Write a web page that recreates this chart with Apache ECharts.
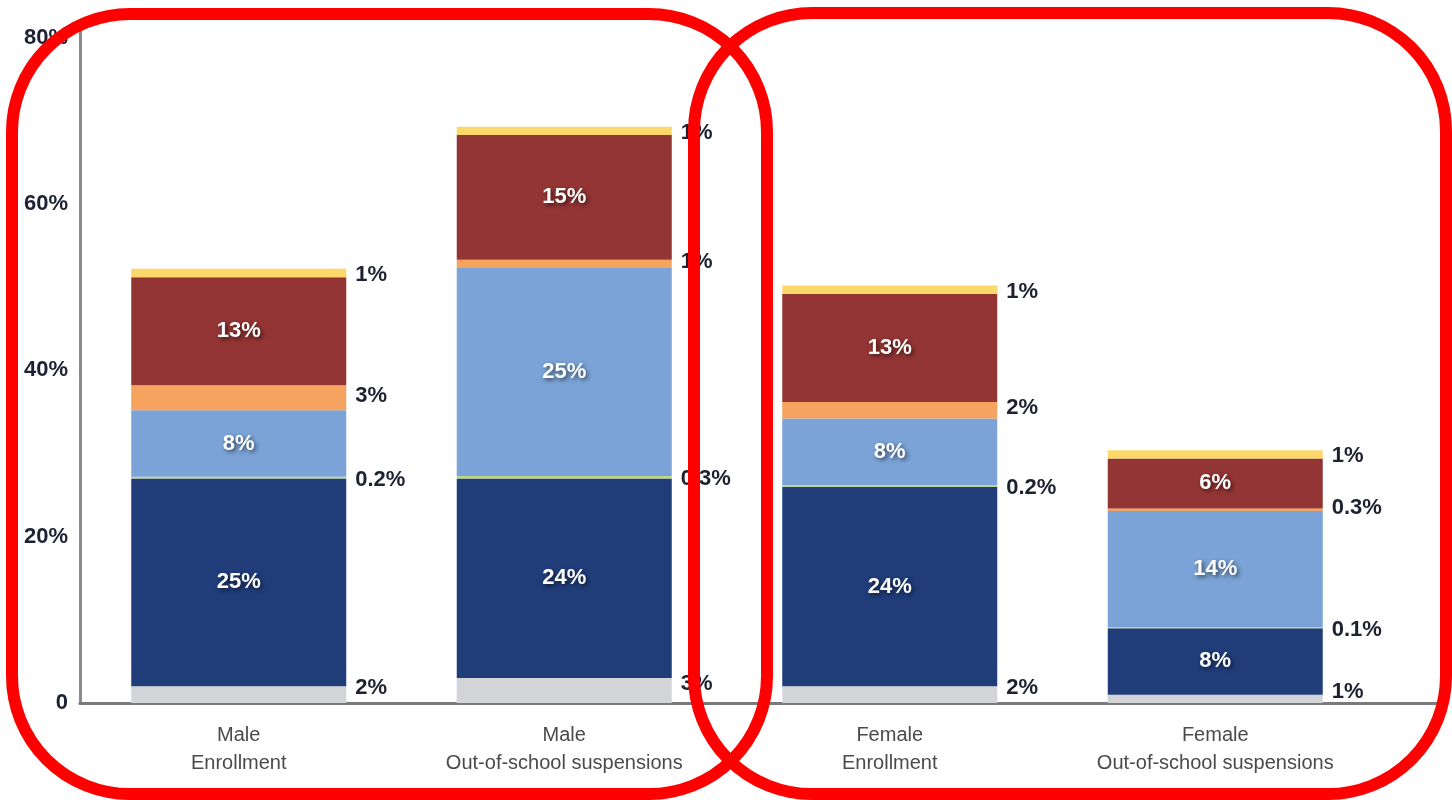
<!DOCTYPE html>
<html>
<head>
<meta charset="utf-8">
<style>
  html, body { margin: 0; padding: 0; background: #ffffff; }
  #chart { width: 1452px; height: 800px; }
</style>
<script src="https://cdn.jsdelivr.net/npm/echarts@6/dist/echarts.min.js"></script>
</head>
<body>
<div id="chart"></div>
<script>
// Share of enrollment and out-of-school suspensions by sex and race/ethnicity (%)
const categories = [
  'Male\nEnrollment',
  'Male\nOut-of-school suspensions',
  'Female\nEnrollment',
  'Female\nOut-of-school suspensions'
];
// stacked from the bottom up
const twoOrMoreRaces = [2, 3, 2, 1];
const white          = [25, 24, 24, 8];
const pacificIslander = [0.2, 0.3, 0.2, 0.1];
const black          = [8, 25, 8, 14];
const asian          = [3, 1, 2, 0.3];
const latino         = [13, 15, 13, 6];
const americanIndian = [1, 1, 1, 1];

const yTicks = [0, 20, 40, 60, 80];

const fontFamily = '"Liberation Sans", Arial, sans-serif';

function insideLabel() {
  return {
    show: true,
    position: 'inside',
    formatter: p => p.value + '%',
    color: '#ffffff',
    fontFamily,
    fontWeight: 'bold',
    fontSize: 22,
    textShadowColor: 'rgba(0,0,0,0.6)',
    textShadowBlur: 4,
    textShadowOffsetX: 2,
    textShadowOffsetY: 2
  };
}

function sideLabel(dy) {
  return {
    show: true,
    position: 'right',
    distance: 9,
    offset: [0, dy],
    formatter: p => p.value + '%',
    color: '#1d2130',
    fontFamily,
    fontWeight: 'bold',
    fontSize: 22
  };
}

function segment(name, data, color, label) {
  return {
    name,
    type: 'bar',
    stack: 'total',
    data,
    barWidth: 215,
    itemStyle: { color },
    label,
    silent: true
  };
}

const option = {
  animation: false,
  backgroundColor: '#ffffff',
  grid: [
    { left: 76, right: 74, top: 21, bottom: 97 },
    { left: 80, right: 10, top: 21, bottom: 97 }
  ],
  xAxis: [
    {
      type: 'category',
      gridIndex: 0,
      data: categories,
      axisLine: { show: false },
      axisTick: { show: false },
      axisLabel: {
        margin: 18,
        color: '#4a4a4a',
        fontFamily,
        fontSize: 20,
        lineHeight: 28
      }
    },
    {
      type: 'value',
      gridIndex: 1,
      axisLine: { show: true, lineStyle: { color: '#7a7a7a', width: 3 } },
      axisTick: { show: false },
      axisLabel: { show: false },
      splitLine: { show: false }
    }
  ],
  yAxis: [
    {
      type: 'value',
      gridIndex: 0,
      min: 0,
      max: 82,
      interval: 20,
      offset: -4,
      axisLine: { show: true, lineStyle: { color: '#8a8a8a', width: 3 } },
      axisTick: { show: false },
      splitLine: { show: false },
      axisLabel: {
        margin: 12,
        color: '#1b2233',
        fontFamily,
        fontWeight: 'bold',
        fontSize: 22,
        formatter: v => yTicks.includes(v) ? (v === 0 ? '0' : v + '%') : ''
      }
    },
    {
      type: 'value',
      gridIndex: 1,
      show: false
    }
  ],
  series: [
    segment('Two or more races', twoOrMoreRaces, '#d3d4d7', sideLabel(-7)),
    segment('White', white, '#203d7a', insideLabel()),
    segment('Native Hawaiian/Pacific Islander', pacificIslander, '#bcd98a', sideLabel(2)),
    segment('Black', black, '#7ba3d7', insideLabel()),
    segment('Asian', asian, '#f5a35f', sideLabel(-2)),
    segment('Latino', latino, '#933534', insideLabel()),
    segment('American Indian/Alaska Native', americanIndian, '#fcd86a', sideLabel(2))
  ],
  graphic: [
    {
      type: 'rect',
      z: 100,
      silent: true,
      shape: { x: 12, y: 14, width: 755, height: 780, r: 118 },
      style: { fill: 'none', stroke: '#ff0000', lineWidth: 12 }
    },
    {
      type: 'rect',
      z: 100,
      silent: true,
      shape: { x: 694, y: 13, width: 752, height: 781, r: 118 },
      style: { fill: 'none', stroke: '#ff0000', lineWidth: 12 }
    }
  ]
};

const chart = echarts.init(document.getElementById('chart'), null, { renderer: 'canvas' });
chart.setOption(option);
</script>
</body>
</html>
